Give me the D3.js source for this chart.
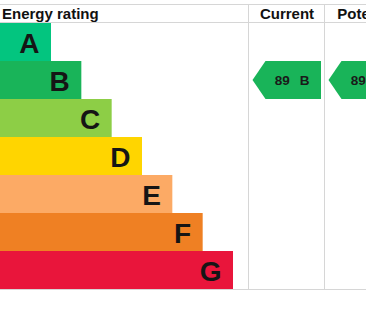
<!DOCTYPE html>
<html>
<head>
<meta charset="utf-8">
<title>Energy rating</title>
<script src="https://d3js.org/d3.v7.min.js"></script>
<style>
body {
  margin: 0;
  padding: 0;
  overflow: hidden;
  background: white;
}
</style>
</head>
<body>
<svg id="chart"></svg>
<script>
// data
var ratings = ['A', 'B', 'C', 'D', 'E', 'F', 'G'];
var barSteps = [1, 2, 3, 4, 5, 6, 7];
var barColors = ['#03c57f', '#19b459', '#8dce46', '#ffd500', '#fcaa65', '#ef8023', '#e9153b'];
var columns = ['Energy rating', 'Current', 'Potential'];
var currentScore = 89, currentBand = 'B';
var potentialScore = 89, potentialBand = 'B';

var W = 420, H = 311;
var tableTop = 23, tableBottom = 289;

var svg = d3.select('#chart')
  .attr('width', W)
  .attr('height', H);

// scales
var y = d3.scaleBand().domain(ratings).range([tableTop, tableBottom]);
var x = d3.scaleLinear().domain([1, 7]).range([51, 233]);
var col = d3.scaleOrdinal().domain(columns).range([0, 248.5, 324.5]);
var colW = d3.scaleOrdinal().domain(columns).range([248.5, 76, 88]);
var color = d3.scaleOrdinal().domain(ratings).range(barColors);

// grid lines
var grid = svg.append('g').attr('stroke', '#d6d6d6').attr('stroke-width', 1);
grid.append('line').attr('x1', 0).attr('x2', W).attr('y1', 4.5).attr('y2', 4.5);
grid.append('line').attr('x1', 0).attr('x2', W).attr('y1', tableTop - 0.5).attr('y2', tableTop - 0.5);
grid.append('line').attr('x1', 0).attr('x2', W).attr('y1', tableBottom + 0.5).attr('y2', tableBottom + 0.5);
grid.selectAll('.v')
  .data(columns.slice(1))
  .enter().append('line')
  .attr('x1', function(d) { return col(d); })
  .attr('x2', function(d) { return col(d); })
  .attr('y1', 4.5).attr('y2', tableBottom + 0.5);

// headers
svg.selectAll('.head')
  .data(columns)
  .enter().append('text')
  .attr('x', function(d, i) { return i == 0 ? 2 : col(d) + colW(d) / 2 + 0.5; })
  .attr('y', 18.5)
  .attr('text-anchor', function(d, i) { return i == 0 ? 'start' : 'middle'; })
  .style('font', 'bold 15px "Liberation Sans", Arial, sans-serif')
  .attr('fill', '#111')
  .text(function(d) { return d; });

// bars
svg.selectAll('.bar')
  .data(ratings)
  .enter().append('rect')
  .attr('x', 0)
  .attr('y', function(d) { return y(d); })
  .attr('width', function(d, i) { return x(barSteps[i]); })
  .attr('height', y.bandwidth())
  .attr('fill', function(d) { return color(d); });

svg.selectAll('.letter')
  .data(ratings)
  .enter().append('text')
  .attr('x', function(d, i) { return x(barSteps[i]) - 11.5; })
  .attr('y', function(d) { return y(d) + y.bandwidth() - 8.5; })
  .attr('text-anchor', 'end')
  .style('font', 'bold 28px "Liberation Sans", Arial, sans-serif')
  .attr('fill', '#151515')
  .text(function(d) { return d; });

// arrows
function arrow(column, score, band) {
  var x0 = col(column) + 4, x1 = col(column) + 76 - 3.5;
  var y0 = y(band), y1 = y(band) + y.bandwidth();
  var tip = 13;
  var g = svg.append('g');
  g.append('path')
    .attr('d', 'M' + x0 + ',' + (y0 + y1) / 2 + 'L' + (x0 + tip) + ',' + y0 +
      'L' + x1 + ',' + y0 + 'L' + x1 + ',' + y1 + 'L' + (x0 + tip) + ',' + y1 + 'Z')
    .attr('fill', color(band));
  var cx = (x0 + tip + x1) / 2;
  g.append('text')
    .attr('x', cx - 3.5)
    .attr('y', (y0 + y1) / 2 + 5)
    .attr('text-anchor', 'end')
    .style('font', 'bold 13.5px "Liberation Sans", Arial, sans-serif')
    .attr('fill', '#1a1a1a')
    .text(score);
  g.append('text')
    .attr('x', cx + 6.5)
    .attr('y', (y0 + y1) / 2 + 5)
    .style('font', 'bold 13.5px "Liberation Sans", Arial, sans-serif')
    .attr('fill', '#1a1a1a')
    .text(band);
}
arrow('Current', currentScore, currentBand);
arrow('Potential', potentialScore, potentialBand);
</script>
</body>
</html>
